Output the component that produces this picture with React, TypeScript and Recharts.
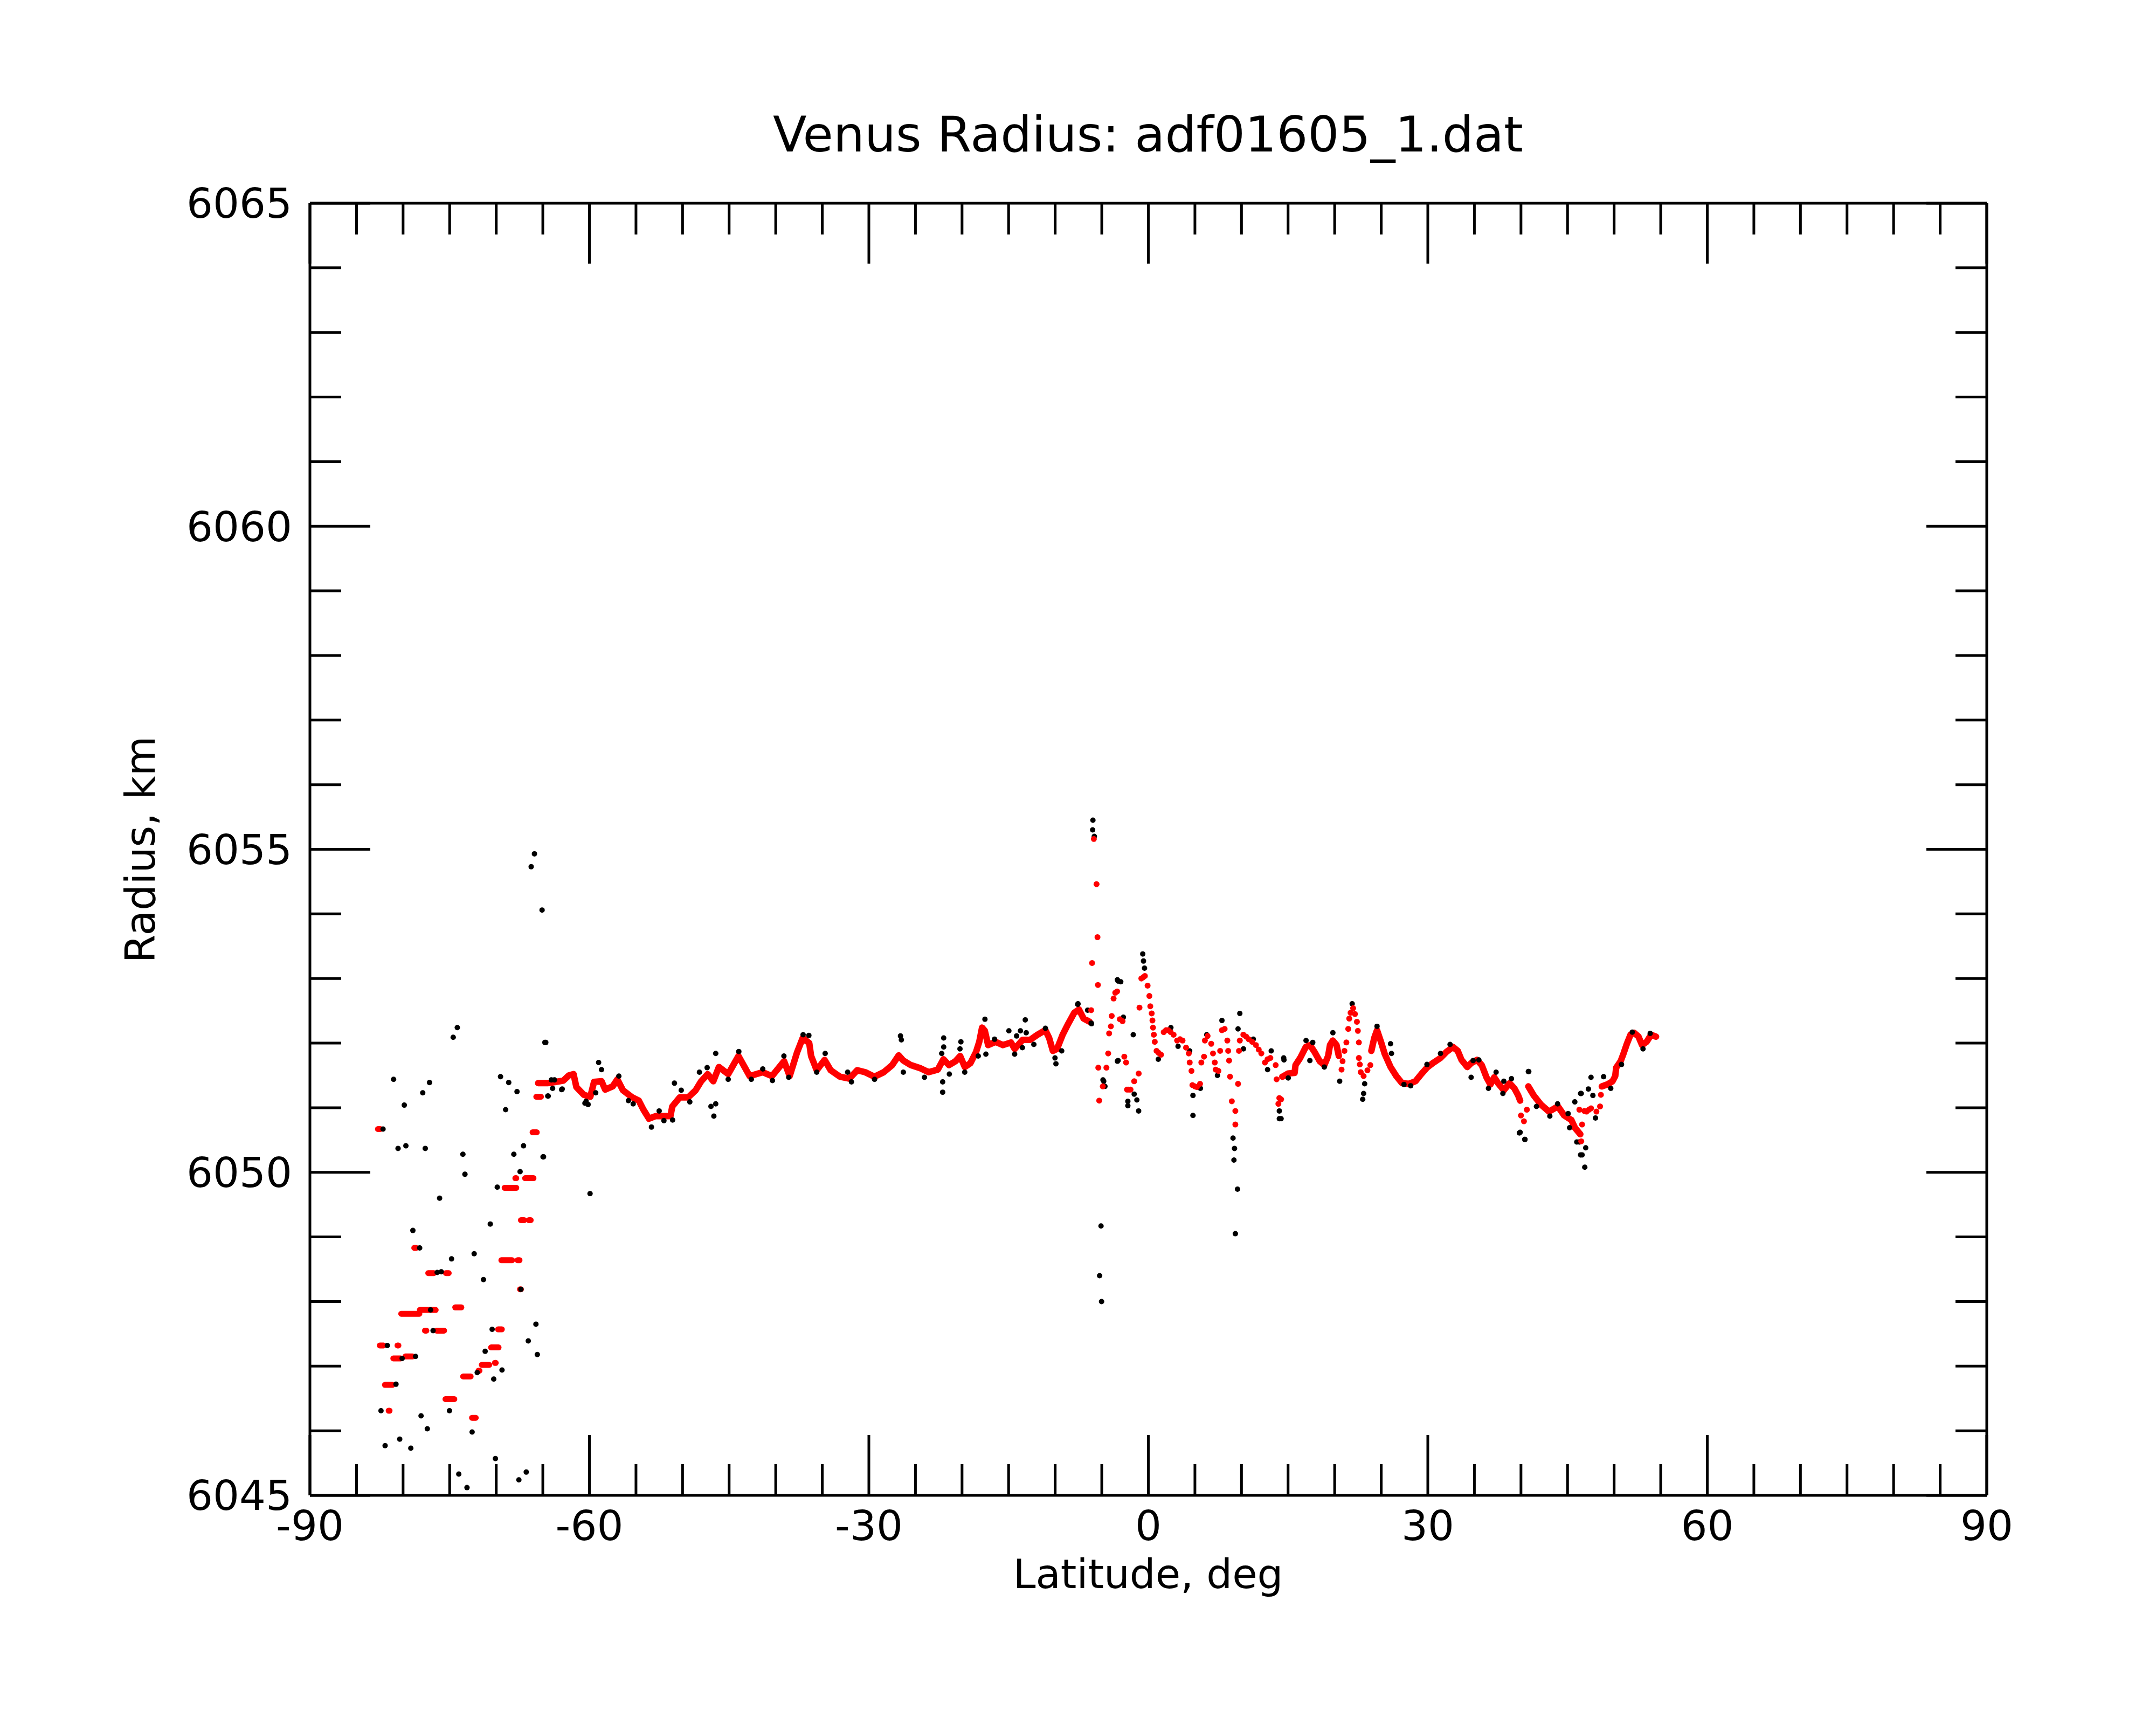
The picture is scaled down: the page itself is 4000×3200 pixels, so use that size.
import { ComposedChart, Line, XAxis, YAxis } from "recharts";

const FONT = "DejaVu Sans";
const RED = "#ff0000";

const LAT_TICKS = [-90, -60, -30, 0, 30, 60, 90];
const LAT_MINOR = [-85, -80, -75, -70, -65, -55, -50, -45, -40, -35, -25, -20, -15, -10, -5, 5, 10, 15, 20, 25, 35, 40, 45, 50, 55, 65, 70, 75, 80, 85];
const RAD_TICKS = [6045, 6050, 6055, 6060, 6065];
const RAD_MINOR = [6046, 6047, 6048, 6049, 6051, 6052, 6053, 6054, 6056, 6057, 6058, 6059, 6061, 6062, 6063, 6064];

// raw radius samples (black)
const rawPoints: [number, number][] = [
  [-65.9, 6054.93], [-66.25, 6054.73], [-65.08, 6054.06], [-74.18, 6052.24], [-74.62, 6052.09], [-64.68, 6052.01],
  [-81.02, 6051.44], [-77.16, 6051.39], [-77.89, 6051.23], [-79.87, 6051.04], [-69.54, 6051.48], [-68.66, 6051.39],
  [-67.77, 6051.25], [-68.99, 6050.97], [-80.54, 6050.37], [-79.7, 6050.41], [-77.62, 6050.37], [-82.15, 6050.67],
  [-73.58, 6050.28], [-73.36, 6049.97], [-68.11, 6050.28], [-67.07, 6050.41], [-67.44, 6050.01], [-64.92, 6050.24],
  [-59.93, 6049.67], [-76.08, 6049.6], [-69.89, 6049.77], [-70.64, 6049.2], [-78.95, 6049.1], [-78.22, 6048.83],
  [-72.37, 6048.74], [-74.8, 6048.66], [-71.37, 6048.34], [-76.34, 6048.45], [-75.9, 6048.46], [-67.35, 6048.19],
  [-65.74, 6047.65], [-66.56, 6047.39], [-65.59, 6047.18], [-70.44, 6047.57], [-76.78, 6047.55], [-71.19, 6047.23],
  [-70.27, 6046.8], [-69.38, 6046.94], [-72.04, 6046.9], [-81.69, 6047.32], [-80.1, 6047.12], [-78.66, 6047.15],
  [-80.76, 6046.72], [-82.37, 6046.31], [-75.02, 6046.31], [-78.07, 6046.23], [-77.4, 6046.03], [-72.59, 6045.98],
  [-81.93, 6045.77], [-80.36, 6045.87], [-79.17, 6045.73], [-70.09, 6045.57], [-74.02, 6045.33], [-73.14, 6045.12],
  [-67.57, 6045.24], [-66.78, 6045.36], [-77.05, 6047.87],
  [-64.08, 6051.43], [-62.98, 6051.28], [-64.42, 6051.18], [-60.48, 6051.07],
  [-64.78, 6052.01], [-64.98, 6050.24], [-64.47, 6051.18], [-63.95, 6051.3], [-62.92, 6051.29], [-63.75, 6051.43],
  [-59.01, 6051.7], [-58.7, 6051.59], [-60.14, 6051.05], [-59.32, 6051.23], [-60.35, 6051.1], [-56.84, 6051.49],
  [-55.81, 6051.11], [-55.3, 6051.06], [-53.34, 6050.7], [-52.51, 6050.95], [-52.0, 6050.8], [-51.07, 6050.81],
  [-50.87, 6051.38], [-50.14, 6051.27], [-49.22, 6051.09], [-48.19, 6051.55], [-47.36, 6051.62], [-46.44, 6051.84],
  [-46.95, 6051.02], [-46.44, 6051.06], [-46.64, 6050.87], [-45.1, 6051.44], [-43.96, 6051.87], [-42.62, 6051.44],
  [-41.39, 6051.6], [-40.35, 6051.42], [-39.12, 6051.8], [-38.6, 6051.47], [-37.06, 6052.13], [-36.44, 6052.12],
  [-35.6, 6051.55], [-34.69, 6051.84],
  [-32.28, 6051.55], [-31.87, 6051.4], [-29.39, 6051.44], [-26.61, 6052.11], [-26.51, 6052.05], [-26.3, 6051.55],
  [-24.03, 6051.47], [-21.97, 6052.08], [-21.97, 6051.94], [-22.08, 6051.4], [-22.08, 6051.24], [-22.18, 6051.84],
  [-21.36, 6051.52], [-20.12, 6052.02], [-20.22, 6051.91], [-19.71, 6051.55], [-18.26, 6051.8], [-17.54, 6052.37],
  [-17.44, 6051.83], [-16.51, 6052.06], [-14.97, 6052.19], [-14.14, 6052.11], [-13.73, 6052.19], [-13.21, 6052.36],
  [-13.11, 6052.16], [-14.35, 6051.83], [-13.52, 6051.93], [-11.05, 6052.23], [-12.29, 6051.98], [-10.02, 6051.77],
  [-9.92, 6051.68], [-9.3, 6051.88], [-7.55, 6052.61], [-6.1, 6052.3], [-4.87, 6051.43], [-4.66, 6051.33],
  [-3.32, 6052.98], [-3.32, 6051.72],
  [-5.95, 6055.45], [-5.98, 6055.3], [-5.8, 6055.2], [-5.08, 6049.17], [-5.23, 6048.4], [-5.02, 6048.0],
  [-7.58, 6052.6], [-6.52, 6052.51], [-6.14, 6052.31], [-3.25, 6052.96], [-2.96, 6052.95], [-2.68, 6052.4],
  [-3.25, 6051.73], [-4.79, 6051.41], [-2.2, 6051.03], [-2.2, 6051.1], [-1.52, 6051.21], [-1.23, 6051.12],
  [-1.04, 6050.95], [-1.62, 6052.13], [-0.6, 6053.38], [-0.52, 6053.27], [-0.41, 6053.16], [1.07, 6051.75],
  [2.42, 6052.24], [3.19, 6051.95], [4.44, 6051.88], [4.79, 6051.19], [4.79, 6050.88], [5.59, 6051.3],
  [6.27, 6052.13], [7.42, 6051.5], [7.9, 6052.35], [9.82, 6052.46], [9.63, 6052.22], [10.21, 6051.91],
  [11.27, 6052.06], [12.8, 6051.59], [13.19, 6051.88], [14.53, 6051.77], [15.02, 6051.46], [14.06, 6050.95],
  [14.06, 6050.83], [9.09, 6050.53], [9.25, 6050.37], [9.19, 6050.19], [9.57, 6049.74], [9.34, 6049.05],
  [21.88, 6052.61], [24.55, 6052.26], [26.0, 6051.99], [26.1, 6051.84], [19.81, 6052.16], [20.54, 6051.41],
  [23.01, 6051.13], [23.11, 6051.22], [23.22, 6051.37], [17.34, 6051.73], [14.56, 6051.74], [14.25, 6050.83],
  [34.65, 6051.47], [36.51, 6051.3], [38.06, 6051.22], [40.84, 6051.56], [39.91, 6050.62], [40.43, 6050.51],
  [45.78, 6051.09], [46.4, 6051.22], [45.99, 6050.47], [46.4, 6050.27], [16.93, 6052.04], [17.65, 6052.01],
  [18.89, 6051.63], [32.39, 6051.98], [31.36, 6051.84], [29.91, 6051.67], [28.16, 6051.34], [27.44, 6051.36],
  [34.86, 6051.73], [35.48, 6051.74], [37.33, 6051.55], [38.16, 6051.41], [38.98, 6051.45], [41.66, 6051.02],
  [43.93, 6051.06], [43.1, 6050.87], [45.06, 6050.91],
  [40.79, 6051.56], [46.47, 6051.22], [47.52, 6051.47], [48.87, 6051.48], [47.24, 6051.29], [47.72, 6051.19],
  [48.0, 6050.84], [46.27, 6050.47], [46.56, 6050.27], [46.85, 6050.08], [46.95, 6050.38], [39.83, 6050.61],
  [40.41, 6050.51], [45.22, 6050.69], [49.64, 6051.3], [50.79, 6051.67], [51.95, 6052.17], [53.1, 6051.91],
  [53.87, 6052.15],
];

// smoothed radius, polar steps: [lat from, lat to, radius]
const fitSteps: [number, number, number][] = [
  [-82.7, -82.45, 6050.67], [-78.8, -78.6, 6048.83], [-77.3, -76.7, 6048.44], [-75.4, -75.1, 6048.44],
  [-74.4, -73.75, 6047.91], [-78.2, -76.5, 6047.87], [-80.2, -78.25, 6047.81], [-77.65, -77.5, 6047.55],
  [-76.4, -75.6, 6047.55], [-82.5, -82.1, 6047.32], [-80.6, -80.5, 6047.32], [-79.75, -79.0, 6047.15],
  [-81.05, -80.25, 6047.12], [-81.95, -81.15, 6046.71], [-81.55, -81.45, 6046.31], [-75.45, -74.5, 6046.49],
  [-73.55, -72.75, 6046.84], [-72.6, -72.2, 6046.2], [-71.9, -71.8, 6046.93], [-71.55, -70.75, 6047.02],
  [-70.55, -69.75, 6047.29], [-70.15, -70.05, 6047.05], [-69.8, -69.4, 6047.57], [-69.45, -68.3, 6048.64],
  [-67.7, -67.5, 6048.64], [-67.35, -67.0, 6049.26], [-66.5, -66.3, 6049.26], [-67.45, -67.35, 6048.19],
  [-69.1, -67.85, 6049.76], [-67.95, -67.85, 6049.91], [-66.9, -66.0, 6049.91], [-66.1, -65.65, 6050.62],
  [-65.7, -65.2, 6051.17],
];

// smoothed radius, continuous stretches
const fitSouth: [number, number][] = [
  [-65.5, 6051.38], [-64.5, 6051.38], [-63.6, 6051.4], [-62.8, 6051.42], [-62.2, 6051.5], [-61.7, 6051.52],
  [-61.4, 6051.32], [-60.6, 6051.2], [-59.9, 6051.17], [-59.5, 6051.4], [-58.7, 6051.41], [-58.3, 6051.28],
  [-57.5, 6051.33], [-57.0, 6051.44], [-56.4, 6051.27], [-55.4, 6051.16], [-54.7, 6051.11], [-54.2, 6050.97],
  [-53.6, 6050.83], [-52.9, 6050.87], [-52.1, 6050.87], [-51.3, 6050.87], [-51.1, 6051.02], [-50.3, 6051.16],
  [-49.4, 6051.16], [-48.6, 6051.27], [-48.0, 6051.41], [-47.3, 6051.52], [-46.7, 6051.41], [-46.1, 6051.63],
  [-45.1, 6051.52], [-44.0, 6051.8], [-42.8, 6051.49], [-41.4, 6051.55], [-40.4, 6051.49], [-39.1, 6051.72],
  [-38.5, 6051.49], [-37.7, 6051.86], [-37.1, 6052.08], [-36.4, 6052.0], [-36.2, 6051.8], [-35.6, 6051.58],
  [-34.75, 6051.74], [-34.1, 6051.58], [-33.1, 6051.48], [-32.1, 6051.45], [-31.25, 6051.58], [-30.4, 6051.55],
  [-29.4, 6051.48], [-28.4, 6051.55], [-27.5, 6051.66], [-26.8, 6051.81], [-26.3, 6051.73], [-25.5, 6051.66],
  [-24.45, 6051.61], [-23.6, 6051.55], [-22.6, 6051.59], [-22.0, 6051.75], [-21.4, 6051.66], [-20.7, 6051.72],
  [-20.2, 6051.8], [-19.7, 6051.63], [-19.1, 6051.69], [-18.5, 6051.86], [-18.15, 6052.02], [-17.85, 6052.24],
  [-17.55, 6052.19], [-17.2, 6051.97], [-16.4, 6052.02], [-15.6, 6051.97], [-14.75, 6052.01], [-14.35, 6051.91],
  [-13.5, 6052.05], [-12.7, 6052.05], [-11.9, 6052.13], [-11.05, 6052.2], [-10.65, 6052.08], [-10.25, 6051.88],
  [-9.8, 6051.91], [-9.2, 6052.13], [-8.6, 6052.3], [-7.95, 6052.47], [-7.45, 6052.52], [-6.95, 6052.38],
  [-6.3, 6052.33],
];

const fitNorthA: [number, number][] = [
  [14.4, 6051.48], [15.0, 6051.53], [15.7, 6051.54], [15.8, 6051.66], [16.3, 6051.77], [16.9, 6051.94],
  [17.35, 6051.97], [17.85, 6051.86], [18.4, 6051.72], [18.9, 6051.66], [19.3, 6051.8], [19.5, 6051.97],
  [19.8, 6052.04], [20.2, 6051.97], [20.45, 6051.8],
];

const fitNorthB: [number, number][] = [
  [23.94, 6051.88], [24.25, 6052.08], [24.55, 6052.2], [24.97, 6052.02], [25.38, 6051.83], [26.0, 6051.63],
  [26.62, 6051.49], [27.23, 6051.38], [27.96, 6051.37], [28.68, 6051.41], [29.3, 6051.52], [29.91, 6051.62],
  [30.53, 6051.69], [31.36, 6051.77], [31.97, 6051.86], [32.7, 6051.94], [33.21, 6051.88], [33.62, 6051.74],
  [34.24, 6051.63], [34.65, 6051.69], [35.27, 6051.74], [35.79, 6051.66], [36.3, 6051.47], [36.72, 6051.36],
  [37.13, 6051.47], [37.54, 6051.38], [38.16, 6051.27], [38.78, 6051.38], [39.29, 6051.3], [39.7, 6051.19],
  [39.91, 6051.11],
];

const fitNorthC: [number, number][] = [
  [40.79, 6051.33], [41.37, 6051.19], [42.14, 6051.05], [43.0, 6050.94], [43.97, 6051.02], [44.64, 6050.88],
  [45.41, 6050.81], [45.79, 6050.69], [46.37, 6050.59],
];

const fitNorthD: [number, number][] = [
  [48.68, 6051.33], [49.26, 6051.36], [49.83, 6051.41], [50.12, 6051.49], [50.22, 6051.62], [50.7, 6051.72],
  [50.99, 6051.83], [51.37, 6051.99], [51.76, 6052.13], [52.14, 6052.16], [52.62, 6052.1], [53.0, 6051.97],
  [53.49, 6052.02], [53.97, 6052.13], [54.5, 6052.1],
];

// smoothed radius, isolated samples where the fit jumps
const fitDots: [number, number][] = [
  [-6.14, 6052.51], [-6.04, 6053.24], [-5.85, 6055.16], [-5.56, 6054.46], [-5.46, 6053.64], [-5.41, 6052.9],
  [-5.37, 6051.62], [-5.27, 6051.11], [-4.89, 6051.33], [-4.5, 6051.62], [-4.31, 6051.84], [-4.21, 6052.15],
  [-4.02, 6052.26], [-3.93, 6052.42], [-3.73, 6052.69], [-3.55, 6052.78], [-3.35, 6052.8], [-3.06, 6052.37],
  [-2.77, 6052.34], [-2.58, 6051.79], [-2.39, 6051.7], [-2.29, 6051.28], [-2.1, 6051.28], [-1.91, 6051.28],
  [-1.52, 6051.41], [-1.04, 6051.53], [-0.95, 6052.55], [-0.75, 6053.0], [-0.55, 6053.02], [-0.37, 6053.04],
  [-0.08, 6052.89], [0.11, 6052.73], [0.21, 6052.57], [0.36, 6052.46], [0.44, 6052.35], [0.5, 6052.24],
  [0.59, 6052.13], [0.69, 6052.02], [0.88, 6051.88], [1.1, 6051.85], [1.36, 6051.82], [1.65, 6052.17],
  [1.9, 6052.2], [2.13, 6052.2], [2.4, 6052.17], [2.71, 6052.13], [3.09, 6052.04], [3.4, 6052.06],
  [3.67, 6052.04], [4.05, 6051.93], [4.34, 6051.84], [4.44, 6051.7], [4.63, 6051.57], [4.73, 6051.35],
  [5.0, 6051.33], [5.21, 6051.32], [5.55, 6051.37], [5.69, 6051.7], [5.98, 6051.79], [6.07, 6052.04],
  [6.36, 6052.11], [6.75, 6051.99], [6.94, 6051.84], [7.13, 6051.7], [7.23, 6051.59], [7.52, 6051.57],
  [7.71, 6051.88], [7.9, 6052.2], [8.19, 6052.22], [8.48, 6052.04], [8.57, 6051.88], [8.67, 6051.73],
  [8.77, 6051.48], [8.96, 6051.1], [9.34, 6050.95], [9.34, 6050.74], [9.63, 6051.37], [9.73, 6051.88],
  [9.82, 6052.04], [10.2, 6052.13], [10.5, 6052.1], [10.78, 6052.06], [11.15, 6052.02], [11.55, 6051.97],
  [11.85, 6051.9], [12.13, 6051.84], [12.52, 6051.7], [12.8, 6051.75], [13.1, 6051.77], [13.67, 6051.66],
  [13.77, 6051.44], [13.96, 6051.06], [14.06, 6051.15], [14.25, 6051.13], [14.35, 6051.48],
  [20.74, 6051.59], [20.85, 6051.72], [21.05, 6051.88], [21.26, 6052.01], [21.46, 6052.22], [21.57, 6052.38],
  [21.71, 6052.47], [21.98, 6052.54], [22.18, 6052.45], [22.39, 6052.33], [22.49, 6052.19], [22.6, 6052.01],
  [22.6, 6051.77], [22.7, 6051.67], [22.8, 6051.55], [23.11, 6051.49], [23.52, 6051.58], [23.83, 6051.66],
  [40.0, 6050.88], [40.32, 6050.79], [40.63, 6050.97],
  [46.47, 6050.48], [46.56, 6050.74], [46.27, 6050.97], [46.8, 6050.95], [47.04, 6050.94], [47.3, 6050.97],
  [47.52, 6050.99], [48.1, 6050.94], [48.49, 6051.02], [48.58, 6051.2],
];

const toPts = (rows: [number, number][]) => rows.map(([lat, r]) => ({ lat, r }));

const fitTracks = [fitSouth, fitNorthA, fitNorthB, fitNorthC, fitNorthD];

const tickFont = { fill: "#000", fontSize: 77, fontFamily: FONT };
const tickStroke = { stroke: "#000", strokeWidth: 5 };
const frame = { stroke: "#000", strokeWidth: 5 };
// tick marks only, no label
const noLabel = () => <g />;

// inner tick rows along the top and bottom edges
const latTickAxes = [
  { id: "bMaj", orientation: "bottom", ticks: LAT_TICKS, size: 112, line: false },
  { id: "bMin", orientation: "bottom", ticks: LAT_MINOR, size: 57, line: false },
  { id: "tMaj", orientation: "top", ticks: LAT_TICKS, size: 112, line: true },
  { id: "tMin", orientation: "top", ticks: LAT_MINOR, size: 57, line: false },
] as const;

export default function App() {
  const hidden = toPts(rawPoints);
  return (
    <div style={{ position: "absolute", left: 0, top: 0, width: 4000, height: 3200, background: "#fff" }}>
      <ComposedChart width={4000} height={3200} margin={{ top: 377, right: 314, bottom: 425, left: 574 }}>
        <XAxis xAxisId="lat" dataKey="lat" type="number" domain={[-90, 90]} allowDataOverflow ticks={LAT_TICKS}
          interval={0} height={1} tickSize={0} tickMargin={28} tickLine={false} axisLine={frame} tick={tickFont} />
        {latTickAxes.map((a) => (
          <XAxis key={a.id} xAxisId={a.id} orientation={a.orientation} dataKey="lat" type="number" domain={[-90, 90]}
            allowDataOverflow ticks={[...a.ticks]} interval={0} height={1} mirror tickSize={a.size}
            tickLine={tickStroke} axisLine={a.line ? frame : false} tick={noLabel} />
        ))}

        <YAxis yAxisId="rad" dataKey="r" type="number" domain={[6045, 6065]} allowDataOverflow ticks={RAD_TICKS}
          interval={0} width={1} tickSize={0} tickMargin={33} tickLine={false} axisLine={frame} tick={tickFont} />
        <YAxis yAxisId="lMaj" type="number" domain={[6045, 6065]} allowDataOverflow ticks={RAD_TICKS} interval={0}
          width={1} mirror tickSize={112} tickLine={tickStroke} axisLine={false} tick={noLabel} />
        <YAxis yAxisId="lMin" type="number" domain={[6045, 6065]} allowDataOverflow ticks={RAD_MINOR} interval={0}
          width={1} mirror tickSize={57} tickLine={tickStroke} axisLine={false} tick={noLabel} />
        <YAxis yAxisId="rMaj" orientation="right" type="number" domain={[6045, 6065]} allowDataOverflow ticks={RAD_TICKS}
          interval={0} width={1} mirror tickSize={112} tickLine={tickStroke} axisLine={frame} tick={noLabel} />
        <YAxis yAxisId="rMin" orientation="right" type="number" domain={[6045, 6065]} allowDataOverflow ticks={RAD_MINOR}
          interval={0} width={1} mirror tickSize={57} tickLine={tickStroke} axisLine={false} tick={noLabel} />

        {/* invisible carriers so the tick-only x axes get a scale */}
        {latTickAxes.map((a) => (
          <Line key={`h${a.id}`} xAxisId={a.id} yAxisId="rad" data={hidden} dataKey="r" stroke="none" strokeWidth={0}
            dot={false} activeDot={false} isAnimationActive={false} />
        ))}

        <Line xAxisId="lat" yAxisId="rad" data={hidden} dataKey="r" stroke="none" strokeWidth={0}
          dot={{ r: 5, fill: "#000", stroke: "none", strokeWidth: 0 }} activeDot={false} isAnimationActive={false} />

        {fitSteps.map(([a, b, r], i) => (
          <Line key={`s${i}`} xAxisId="lat" yAxisId="rad" data={[{ lat: a, r }, { lat: b, r }]} dataKey="r"
            stroke={RED} strokeWidth={11} strokeLinecap="round" dot={false} activeDot={false} isAnimationActive={false} />
        ))}
        {fitTracks.map((rows, i) => (
          <Line key={`t${i}`} xAxisId="lat" yAxisId="rad" data={toPts(rows)} dataKey="r" stroke={RED} strokeWidth={12}
            strokeLinecap="round" strokeLinejoin="round" dot={false} activeDot={false} isAnimationActive={false} />
        ))}
        <Line xAxisId="lat" yAxisId="rad" data={toPts(fitDots)} dataKey="r" stroke="none" strokeWidth={0}
          dot={{ r: 5.5, fill: RED, stroke: "none", strokeWidth: 0 }} activeDot={false} isAnimationActive={false} />
      </ComposedChart>

      <svg width={4000} height={3200} style={{ position: "absolute", left: 0, top: 0, pointerEvents: "none" }}>
        <text x={2130} y={281} textAnchor="middle" fontFamily={FONT} fontSize={91.5} fill="#000">
          Venus Radius: adf01605_1.dat
        </text>
        <text x={2130} y={2946} textAnchor="middle" fontFamily={FONT} fontSize={75.5} fill="#000">
          Latitude, deg
        </text>
        <text x={287} y={1576} textAnchor="middle" fontFamily={FONT} fontSize={76} fill="#000"
          transform="rotate(-90 287 1576)">
          Radius, km
        </text>
      </svg>
    </div>
  );
}
